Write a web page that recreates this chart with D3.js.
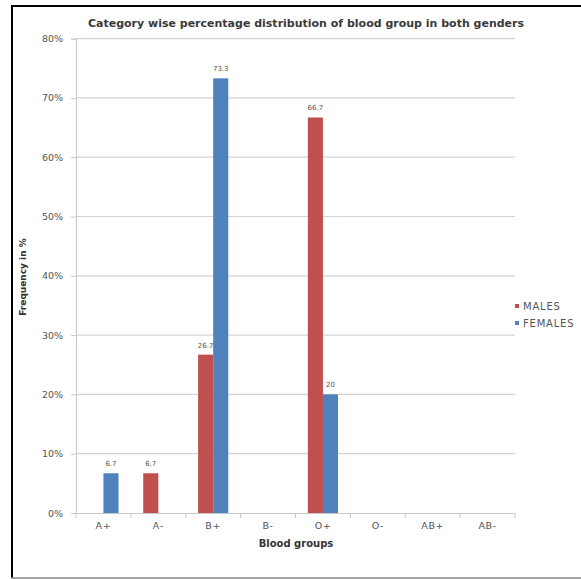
<!DOCTYPE html>
<html><head><meta charset="utf-8">
<script src="https://cdn.jsdelivr.net/npm/d3@7"></script>
<style>body{margin:0;background:#fff}svg{display:block}text{font-family:"DejaVu Sans",Verdana,sans-serif}</style>
</head><body>
<script>
const categories = ["A+","A-","B+","B-","O+","O-","AB+","AB-"];
const males = [0, 6.7, 26.7, 0, 66.7, 0, 0, 0];
const females = [6.7, 0, 73.3, 0, 20, 0, 0, 0];
const seriesNames = ["MALES","FEMALES"];
const seriesColors = ["#C0504D","#4F81BD"];
const yTicks = [0,10,20,30,40,50,60,70,80];

const W = 581, H = 579;
const svg = d3.select("body").append("svg").attr("width", W).attr("height", H);

// frame
svg.append("line").attr("x1",12).attr("x2",12).attr("y1",6).attr("y2",578).attr("stroke","#000").attr("stroke-width",2);
svg.append("line").attr("x1",11).attr("x2",581).attr("y1",6).attr("y2",6).attr("stroke","#000").attr("stroke-width",2);
svg.append("line").attr("x1",11).attr("x2",581).attr("y1",578).attr("y2",578).attr("stroke","#888").attr("stroke-width",1.5);

const x0 = d3.scaleBand().domain(categories).range([76,515]).paddingInner(0.45).paddingOuter(0.225);
const x1 = d3.scaleBand().domain(seriesNames).range([0, x0.bandwidth()]);
const y = d3.scaleLinear().domain([0,80]).range([513,38.6]);

// gridlines
svg.append("g").selectAll("line").data(yTicks.filter(d=>d>0)).join("line")
  .attr("x1",76).attr("x2",515).attr("y1",d=>y(d)).attr("y2",d=>y(d))
  .attr("stroke","#d4d4d4").attr("stroke-width",1.2);

// y axis
const yAxis = svg.append("g").attr("transform","translate(76,0)")
  .call(d3.axisLeft(y).tickValues(yTicks).tickFormat(d=>d+"%").tickSize(5).tickPadding(8));
yAxis.select(".domain").attr("stroke","#c8c8c8");
yAxis.selectAll(".tick line").attr("stroke","#c8c8c8");
yAxis.selectAll("text").attr("font-size",9.5).attr("fill","#555").attr("font-family","DejaVu Sans");

// x axis
const xAxis = svg.append("g").attr("transform","translate(0,513)")
  .call(d3.axisBottom(x0).tickSize(0).tickPadding(9));
xAxis.select(".domain").attr("stroke","#c8c8c8").attr("stroke-width",1.2);
xAxis.selectAll("text").attr("font-size",9.5).attr("fill","#555").attr("font-family","DejaVu Sans").attr("letter-spacing",0.6);
// band boundary ticks
svg.append("g").selectAll("line").data(categories.concat(["end"])).join("line")
  .attr("x1",(d,i)=>76+i*(439/8)).attr("x2",(d,i)=>76+i*(439/8))
  .attr("y1",513).attr("y2",518).attr("stroke","#c8c8c8");

const series = [males, females];
series.forEach((vals, si) => {
  const g = svg.append("g");
  const data = categories.map((c,i)=>({c, v: vals[i]}));
  g.selectAll("rect").data(data.filter(d=>d.v>0)).join("rect")
    .attr("x", d=>x0(d.c)+x1(seriesNames[si]))
    .attr("width", x1.bandwidth())
    .attr("y", d=>y(d.v))
    .attr("height", d=>y(0)-y(d.v))
    .attr("fill", seriesColors[si]);
  g.selectAll("text").data(data.filter(d=>d.v>0)).join("text")
    .attr("x", d=>x0(d.c)+x1(seriesNames[si])+x1.bandwidth()/2)
    .attr("y", d=>y(d.v)-7)
    .attr("text-anchor","middle").attr("font-size",7).attr("fill","#555")
    .text(d=>d.v);
});

// title
svg.append("text").attr("x",306).attr("y",27).attr("text-anchor","middle")
  .attr("font-size",11).attr("font-weight","bold").attr("fill","#3a3a3a")
  .text("Category wise percentage distribution of  blood group in both genders");

// axis titles
svg.append("text").attr("x",296).attr("y",547).attr("text-anchor","middle")
  .attr("font-size",10).attr("font-weight","bold").attr("fill","#333").text("Blood groups");
svg.append("text").attr("transform","translate(26,277) rotate(-90)").attr("text-anchor","middle")
  .attr("font-size",9).attr("font-weight","bold").attr("fill","#333").text("Frequency in %");

// legend
const lg = svg.append("g");
seriesNames.forEach((n,i)=>{
  lg.append("rect").attr("x",515).attr("y",304+i*17).attr("width",4).attr("height",4).attr("fill",seriesColors[i]);
  lg.append("text").attr("x",523).attr("y",310+i*17).attr("font-size",10).attr("letter-spacing",0.8).attr("fill","#555").text(n);
});
</script>
</body></html>
